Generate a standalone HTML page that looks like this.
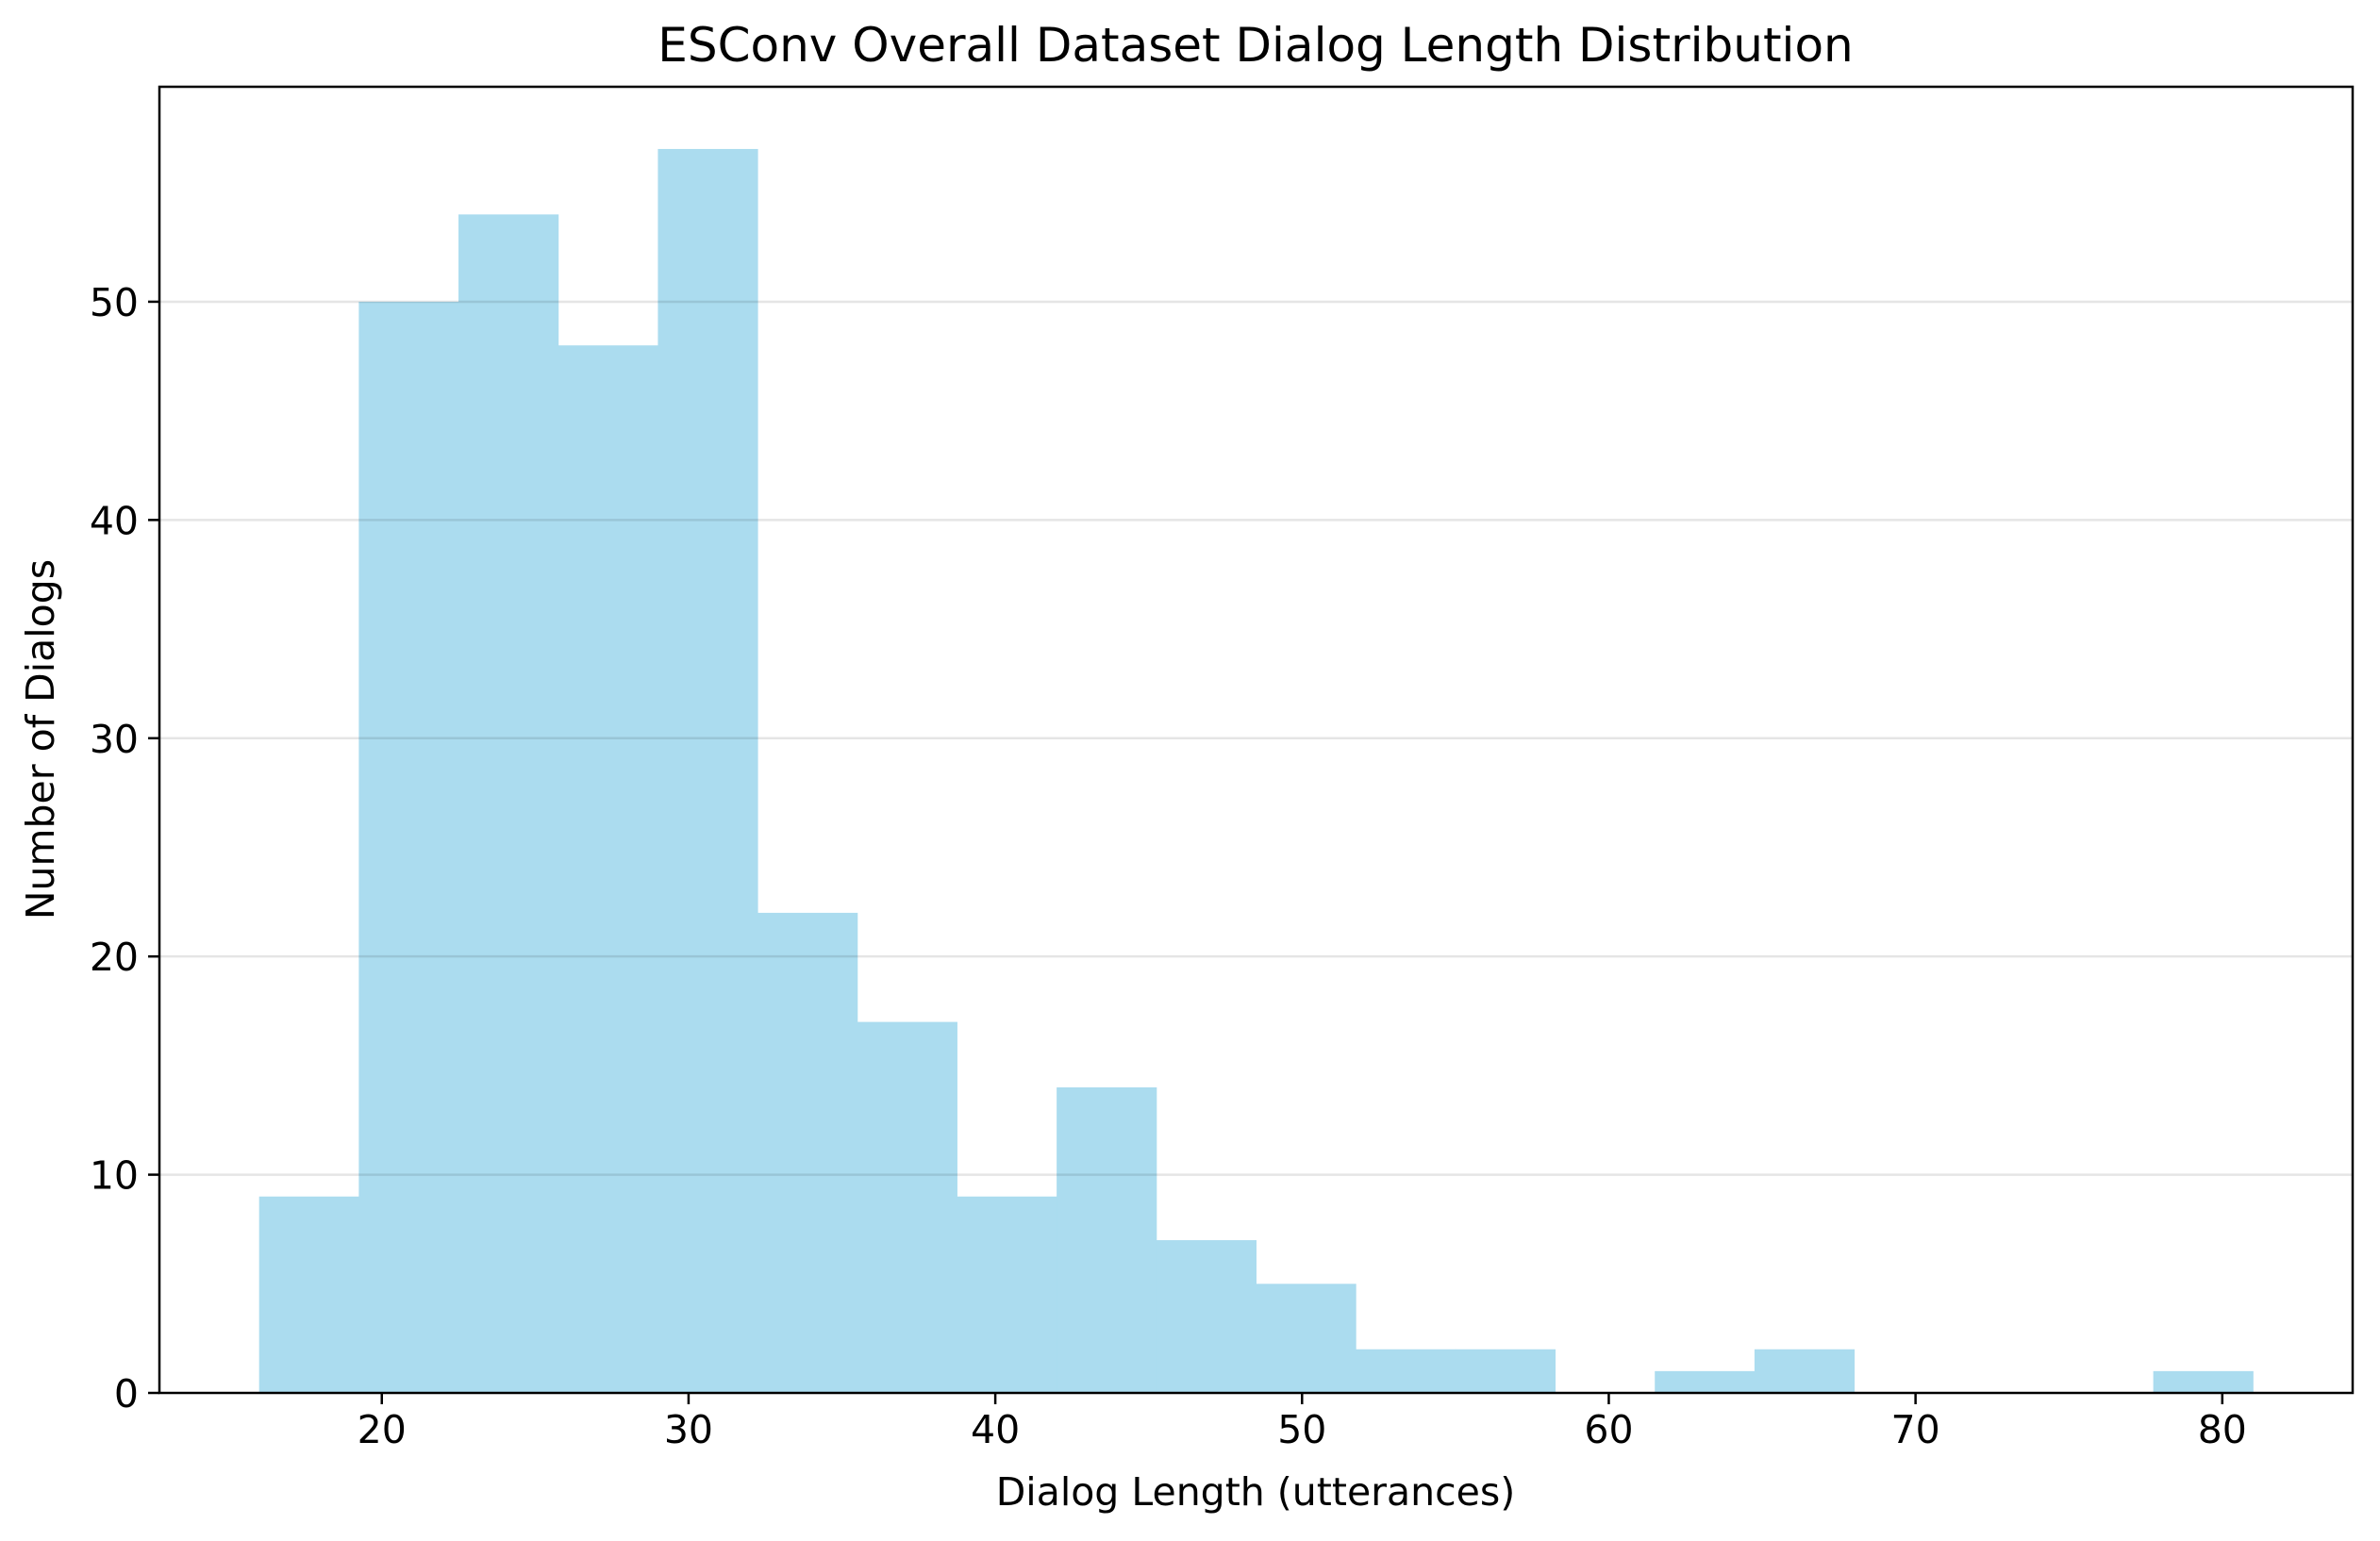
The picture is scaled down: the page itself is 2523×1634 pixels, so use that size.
<!DOCTYPE html>
<html><head><meta charset="utf-8"><style>
html,body{margin:0;padding:0;background:#fff;}
svg{display:block;font-family:"DejaVu Sans","Liberation Sans",sans-serif;}
</style></head><body>
<svg id="chart" width="2523" height="1634" viewBox="0 0 2523 1634">
<g id="grid"></g>
<g id="bars"></g>
<g id="gridTop"></g>
<rect x="169" y="92" width="2325" height="1385" fill="none" stroke="#000" stroke-width="2.5"/>
<g id="xticks"></g>
<g id="yticks"></g>
<text x="1331" y="65" font-size="50" text-anchor="middle">ESConv Overall Dataset Dialog Length Distribution</text>
<text x="1331" y="1596" font-size="41" text-anchor="middle">Dialog Length (utterances)</text>
<text x="57" y="784" font-size="41" text-anchor="middle" transform="rotate(-90 57 784)">Number of Dialogs</text>
</svg>
<script>
const binStart = 16;
const binEnd = 81;
const counts = [9,50,54,48,57,22,17,9,14,7,5,2,2,0,1,2,0,0,0,1];
const xTickValues = [20,30,40,50,60,70,80];
const yTickValues = [0,10,20,30,40,50];

const L=169,R=2494,T=92,B=1477;
const pad=(binEnd-binStart)*0.05;
const xmin=binStart-pad,xmax=binEnd+pad;
const ymax=Math.max(...counts)*1.05;
const xs=v=>L+(v-xmin)/(xmax-xmin)*(R-L);
const ys=v=>B-v/ymax*(B-T);
const NS="http://www.w3.org/2000/svg";
const bw=(binEnd-binStart)/counts.length;
const bars=document.getElementById('bars');
counts.forEach((c,i)=>{
  if(c<=0) return;
  const r=document.createElementNS(NS,'rect');
  const x0=xs(binStart+i*bw),x1=xs(binStart+(i+1)*bw);
  r.setAttribute('x',x0);r.setAttribute('width',x1-x0+0.5);
  r.setAttribute('y',ys(c));r.setAttribute('height',B-ys(c));
  r.setAttribute('fill','#abdcef');
  
  
  bars.appendChild(r);
});
const gt=document.getElementById('gridTop');
yTickValues.forEach(v=>{
  const y=ys(v);
  if(v>0){
    const g=document.createElementNS(NS,'line');
    g.setAttribute('x1',L);g.setAttribute('x2',R);g.setAttribute('y1',y);g.setAttribute('y2',y);
    g.setAttribute('stroke','#000');g.setAttribute('stroke-opacity','0.1');g.setAttribute('stroke-width','2.5');
    
    
    gt.appendChild(g);
  }
  const t=document.createElementNS(NS,'line');
  t.setAttribute('x1',L-12);t.setAttribute('x2',L);t.setAttribute('y1',y);t.setAttribute('y2',y);
  t.setAttribute('stroke','#000');t.setAttribute('stroke-width','2.5');
  
  
  document.getElementById('yticks').appendChild(t);
  const tx=document.createElementNS(NS,'text');
  tx.setAttribute('x',L-22);tx.setAttribute('y',y+15);tx.setAttribute('font-size','41');tx.setAttribute('text-anchor','end');
  tx.textContent=v;
  
  
  document.getElementById('yticks').appendChild(tx);
});
xTickValues.forEach(v=>{
  const x=xs(v);
  const t=document.createElementNS(NS,'line');
  t.setAttribute('x1',x);t.setAttribute('x2',x);t.setAttribute('y1',B);t.setAttribute('y2',B+12);
  t.setAttribute('stroke','#000');t.setAttribute('stroke-width','2.5');
  
  
  document.getElementById('xticks').appendChild(t);
  const tx=document.createElementNS(NS,'text');
  tx.setAttribute('x',x);tx.setAttribute('y',B+53);tx.setAttribute('font-size','41');tx.setAttribute('text-anchor','middle');
  tx.textContent=v;
  
  
  document.getElementById('xticks').appendChild(tx);
});
</script>
</body></html>
